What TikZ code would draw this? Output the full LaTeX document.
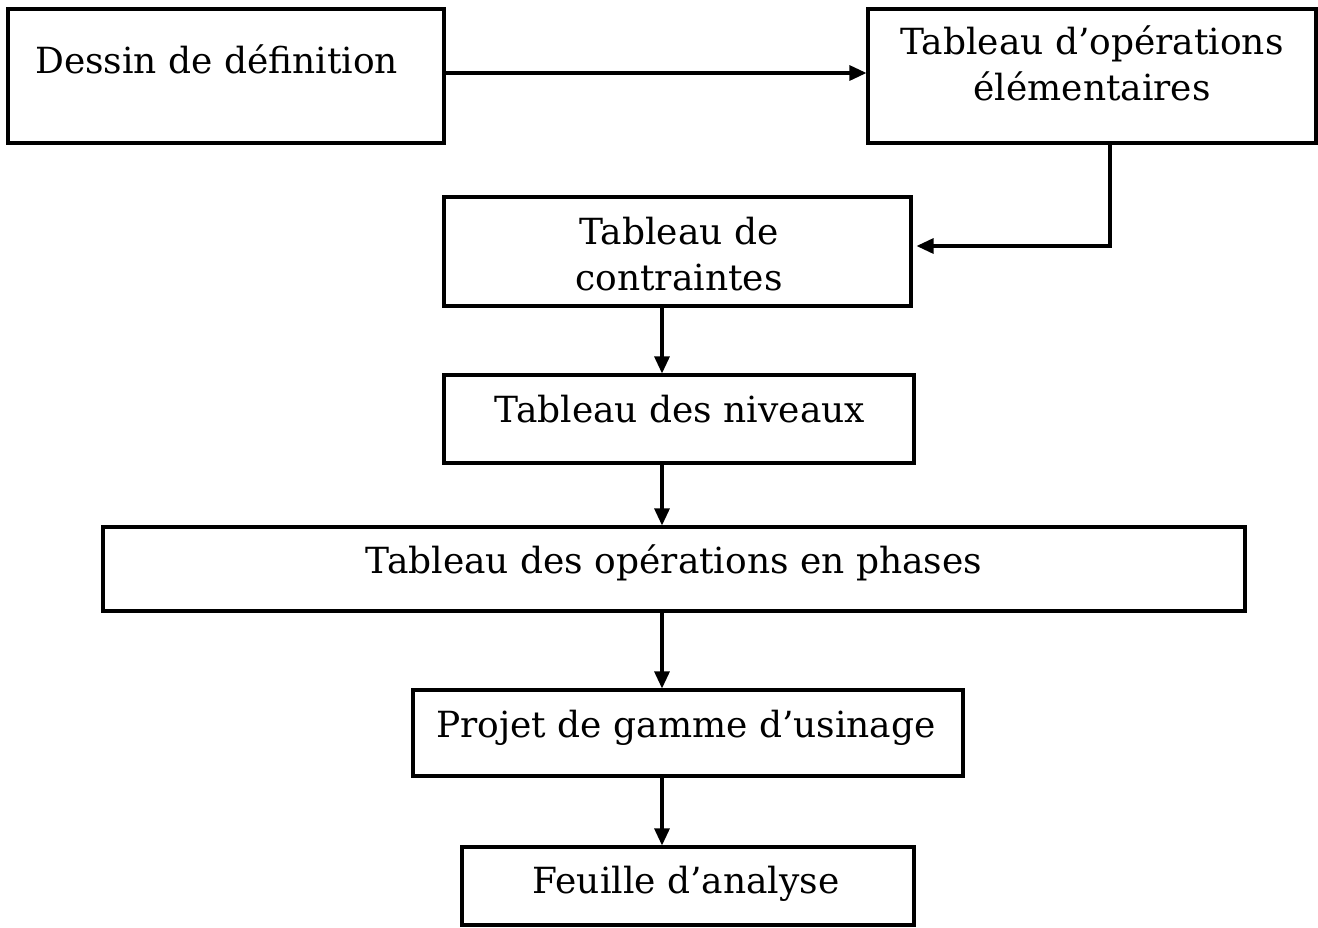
\documentclass[tikz,border=0pt]{standalone}
\usepackage{fontspec}
\setmainfont{DejaVu Serif}
\usetikzlibrary{arrows.meta}
\begin{document}
\begin{tikzpicture}[x=1pt,y=-1pt,
  boxnode/.style={draw,line width=3.1pt,rectangle,inner sep=0pt},
  lbl/.style={font=\fontsize{36}{46}\selectfont,inner sep=0pt,anchor=base,align=center},
  arr/.style={line width=3.1pt,-{Triangle[length=17pt,width=15pt]}}]
\useasboundingbox[fill=white] (0,0) rectangle (1318,927);
\node[boxnode,minimum width=436pt,minimum height=134pt] (b1) at (226,76) {};
\node[boxnode,minimum width=448pt,minimum height=134pt] (b2) at (1092,76) {};
\node[boxnode,minimum width=467pt,minimum height=109pt] (b3) at (677.5,251.5) {};
\node[boxnode,minimum width=470pt,minimum height=88pt] (b4) at (679,419) {};
\node[boxnode,minimum width=1142pt,minimum height=84pt] (b5) at (674,569) {};
\node[boxnode,minimum width=550pt,minimum height=86pt] (b6) at (688,733) {};
\node[boxnode,minimum width=452pt,minimum height=78pt] (b7) at (688,886) {};
\node[lbl,anchor=base west] (t1) at (35,73) {Dessin de définition};
\node[lbl] (t2) at (1092,100) {Tableau d’opérations\\élémentaires};
\node[lbl] (t3) at (679,290) {Tableau de\\contraintes};
\node[lbl] (t4) at (680,422) {Tableau des niveaux};
\node[lbl] (t5) at (674,573) {Tableau des opérations en phases};
\node[lbl] (t6) at (686,737) {Projet de gamme d’usinage};
\node[lbl] (t7) at (686,893) {Feuille d’analyse};
\coordinate (xa) at (662,0);
\coordinate (xb) at (1110,0);
\coordinate (j) at (1110,246);
\draw[arr] (b1.east |- t1.base) -- (b2.west |- t1.base);
\draw[arr,shorten >=4pt] (b2.south -| xb) -- (j) -- (b3.east |- j);
\draw[arr] (b3.south -| xa) -- (b4.north -| xa);
\draw[arr] (b4.south -| xa) -- (b5.north -| xa);
\draw[arr] (b5.south -| xa) -- (b6.north -| xa);
\draw[arr] (b6.south -| xa) -- (b7.north -| xa);
\end{tikzpicture}
\end{document}
